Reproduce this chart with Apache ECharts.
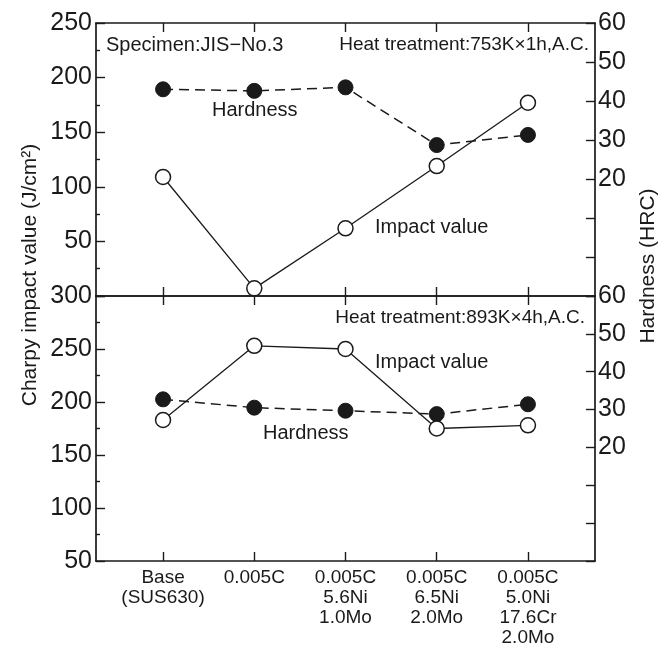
<!DOCTYPE html>
<html>
<head>
<meta charset="utf-8">
<script src="https://cdn.jsdelivr.net/npm/echarts@6/dist/echarts.min.js"></script>
<style>
html,body{margin:0;padding:0;background:#fff;}
#chart{width:659px;height:648px;}
</style>
</head>
<body>
<div id="chart"></div>
<script>
// ---- data ----
var categories = ['Base\n(SUS630)', '0.005C', '0.005C\n5.6Ni\n1.0Mo', '0.005C\n6.5Ni\n2.0Mo', '0.005C\n5.0Ni\n17.6Cr\n2.0Mo'];
var catIndex = [0, 1, 2, 3, 4];
// top panel: 753K x 1h, A.C.
var impact753 = [109, 7, 62, 119, 177];
var hardness753 = [43.0, 42.6, 43.5, 28.7, 31.3];
// bottom panel: 893K x 4h, A.C.
var impact893 = [183, 253, 250, 175, 178];
var hardness893 = [32.7, 30.5, 29.7, 28.8, 31.4];
// tick labels
var leftTopTicks = [50, 100, 150, 200, 250];
var leftBottomTicks = [50, 100, 150, 200, 250, 300];
var rightTicks = [20, 30, 40, 50, 60];

function pairs(vals) { return catIndex.map(function (c, i) { return [c, vals[i]]; }); }

var FONT = 'Liberation Sans, Arial, Helvetica, sans-serif';
var INK = '#1a1a1a';
var axisLineStyle = { color: INK, width: 1.7 };

function xAx(grid, pos, labels) {
  return {
    type: 'value', gridIndex: grid, position: pos,
    min: -0.735, max: 4.735,
    splitLine: { show: false },
    axisLine: { show: true, onZero: false, lineStyle: axisLineStyle },
    axisTick: { show: true, inside: true, length: 9, customValues: catIndex, lineStyle: { color: INK, width: 1.4 } },
    axisLabel: labels ? {
      show: true, customValues: catIndex,
      formatter: function (v) { return categories[Math.round(v)]; },
      fontFamily: FONT, fontSize: 19, lineHeight: 20, color: INK, margin: 7
    } : { show: false }
  };
}

function yAx(grid, pos, min, max, interval, shown, minor) {
  return {
    type: 'value', gridIndex: grid, position: pos,
    min: min, max: max, interval: interval,
    splitLine: { show: false },
    axisLine: { show: true, onZero: false, lineStyle: axisLineStyle },
    axisTick: { show: true, inside: true, length: 9, lineStyle: { color: INK, width: 1.4 } },
    minorTick: { show: minor, splitNumber: 2, length: 4, lineStyle: { color: INK, width: 1.4 } },
    axisLabel: {
      show: true, fontFamily: FONT, fontSize: 25, color: INK, margin: pos === 'left' ? 4 : 3,
      showMinLabel: true, showMaxLabel: true,
      formatter: function (v) { return shown.indexOf(v) >= 0 ? String(v) : ''; }
    }
  };
}

function hardnessSeries(xi, yi, vals) {
  return {
    type: 'line', xAxisIndex: xi, yAxisIndex: yi, data: pairs(vals),
    symbol: 'circle', symbolSize: 15,
    itemStyle: { color: INK, borderColor: INK, borderWidth: 1 },
    lineStyle: { color: INK, width: 1.5, type: [10, 6] },
    z: 2
  };
}
function impactSeries(xi, yi, vals) {
  return {
    type: 'line', xAxisIndex: xi, yAxisIndex: yi, data: pairs(vals),
    symbol: 'circle', symbolSize: 15,
    itemStyle: { color: '#fff', borderColor: INK, borderWidth: 1.5 },
    lineStyle: { color: INK, width: 1.3 },
    z: 3
  };
}

function txt(x, y, s, align, size, rot) {
  return {
    type: 'text', x: x, y: y, rotation: rot || 0, z: 10,
    style: {
      text: s, font: (size || 20) + 'px ' + FONT, fill: INK,
      textAlign: align || 'left', align: align || 'left',
      textVerticalAlign: 'middle', verticalAlign: 'middle'
    }
  };
}

var chart = echarts.init(document.getElementById('chart'), null, { renderer: 'canvas' });
chart.setOption({
  animation: false,
  backgroundColor: '#fff',
  grid: [
    { left: 96, right: 64, top: 23, height: 273 },
    { left: 96, right: 64, top: 296, height: 271 }
  ],
  xAxis: [xAx(0, 'bottom', false), xAx(0, 'top', false), xAx(1, 'bottom', true), xAx(1, 'top', false)],
  yAxis: [
    yAx(0, 'left', 0, 250, 50, leftTopTicks, true),
    yAx(0, 'right', -10, 60, 10, rightTicks, false),
    yAx(1, 'left', 50, 300, 50, leftBottomTicks, true),
    yAx(1, 'right', -10, 60, 10, rightTicks, false)
  ],
  series: [
    hardnessSeries(0, 1, hardness753),
    impactSeries(0, 0, impact753),
    hardnessSeries(2, 3, hardness893),
    impactSeries(2, 2, impact893)
  ],
  graphic: [
    txt(106, 45, 'Specimen:JIS\u2212No.3', 'left', 20),
    txt(589, 45, 'Heat treatment:753K\u00d71h,A.C.', 'right', 19),
    txt(212, 110, 'Hardness', 'left', 20),
    txt(375, 227, 'Impact value', 'left', 20),
    txt(585, 318, 'Heat treatment:893K\u00d74h,A.C.', 'right', 19),
    txt(375, 362, 'Impact value', 'left', 20),
    txt(263, 433, 'Hardness', 'left', 20),
    txt(30, 275, 'Charpy impact value (J/cm\u00b2)', 'center', 21, Math.PI / 2),
    txt(648, 266, 'Hardness (HRC)', 'center', 21, Math.PI / 2)
  ]
});
</script>
</body>
</html>
